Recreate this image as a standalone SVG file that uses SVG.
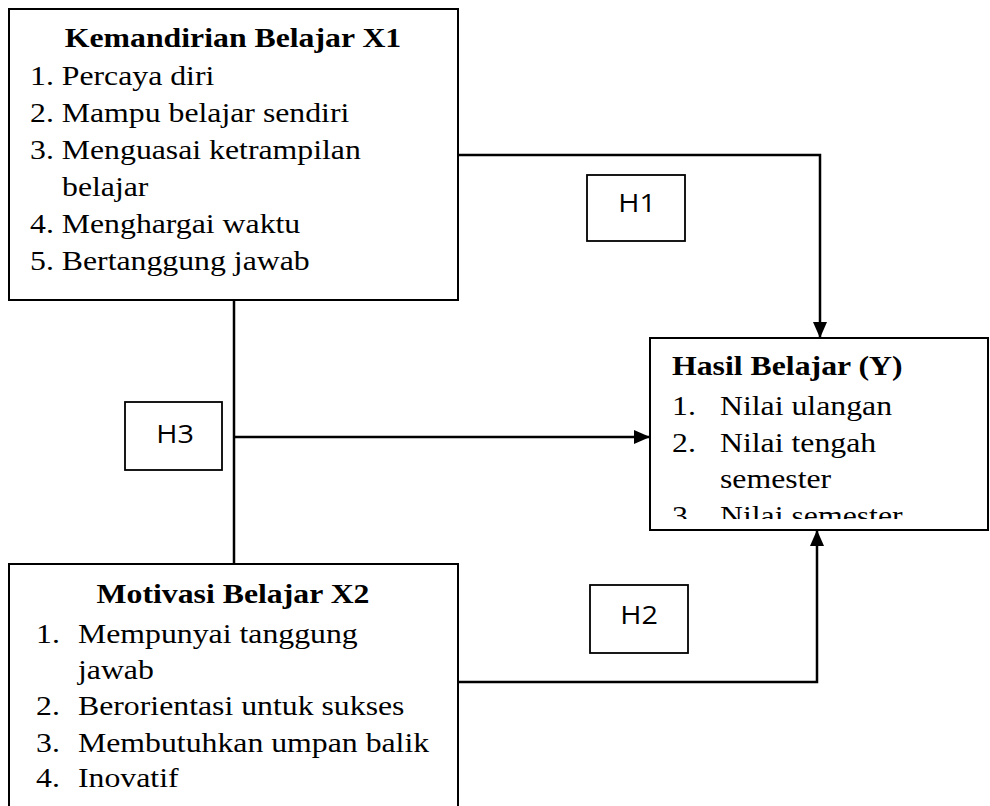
<svg xmlns="http://www.w3.org/2000/svg" width="990" height="806" viewBox="0 0 990 806">
<defs>
<style>
.box{fill:#fff;stroke:#000;stroke-width:2}
.hbox{fill:#fff;stroke:#000;stroke-width:1.8}
.t{font-family:"Liberation Serif","Times New Roman",serif;font-size:28px;fill:#000}
.b{font-weight:bold}
.h{font-family:"Open Sans","Liberation Sans",sans-serif;font-size:25px;fill:#000;text-anchor:middle}
.c{fill:none;stroke:#000;stroke-width:2.5}
</style>
<marker id="arr" viewBox="0 0 16 14" refX="16" refY="7" markerWidth="16" markerHeight="14" markerUnits="userSpaceOnUse" orient="auto">
<path d="M0,0 L16,7 L0,14 z" fill="#000"/>
</marker>
<clipPath id="yclip"><rect x="650" y="338" width="338" height="181"/></clipPath>
</defs>
<g id="connectors">
<line class="c" x1="234" y1="300" x2="234" y2="564"/>
<polyline class="c" points="458,155 820,155 820,338" marker-end="url(#arr)"/>
<line class="c" x1="234" y1="437" x2="650" y2="437" marker-end="url(#arr)"/>
<polyline class="c" points="458,682 817,682 817,530" marker-end="url(#arr)"/>
</g>
<g id="x1">
<rect class="box" x="9" y="9" width="449" height="291"/>
<text class="t b" text-anchor="middle" transform="translate(233,47) scale(1.135,1)">Kemandirian Belajar X1</text>
<text class="t" transform="translate(30,85) scale(1.135,1)">1. Percaya diri</text>
<text class="t" transform="translate(30,122) scale(1.135,1)">2. Mampu belajar sendiri</text>
<text class="t" transform="translate(30,159) scale(1.135,1)">3. Menguasai ketrampilan</text>
<text class="t" transform="translate(62,196) scale(1.135,1)">belajar</text>
<text class="t" transform="translate(30,233) scale(1.135,1)">4. Menghargai waktu</text>
<text class="t" transform="translate(30,270) scale(1.135,1)">5. Bertanggung jawab</text>
</g>
<g id="x2">
<rect class="box" x="9" y="564" width="449" height="250"/>
<text class="t b" text-anchor="middle" transform="translate(233,603) scale(1.135,1)">Motivasi Belajar X2</text>
<text class="t" transform="translate(36,643) scale(1.135,1)">1.</text><text class="t" transform="translate(78,643) scale(1.135,1)">Mempunyai tanggung</text>
<text class="t" transform="translate(78,679) scale(1.135,1)">jawab</text>
<text class="t" transform="translate(36,715) scale(1.135,1)">2.</text><text class="t" transform="translate(78,715) scale(1.135,1)">Berorientasi untuk sukses</text>
<text class="t" transform="translate(36,752) scale(1.135,1)">3.</text><text class="t" transform="translate(78,752) scale(1.135,1)">Membutuhkan umpan balik</text>
<text class="t" transform="translate(36,787) scale(1.135,1)">4.</text><text class="t" transform="translate(78,787) scale(1.135,1)">Inovatif</text>
</g>
<g id="y">
<rect class="box" x="650" y="338" width="338" height="192"/>
<g clip-path="url(#yclip)">
<text class="t b" transform="translate(672,375) scale(1.135,1)">Hasil Belajar (Y)</text>
<text class="t" transform="translate(672,415) scale(1.135,1)">1.</text><text class="t" transform="translate(720,415) scale(1.135,1)">Nilai ulangan</text>
<text class="t" transform="translate(672,452) scale(1.135,1)">2.</text><text class="t" transform="translate(720,452) scale(1.135,1)">Nilai tengah</text>
<text class="t" transform="translate(720,488) scale(1.135,1)">semester</text>
<text class="t" transform="translate(672,525) scale(1.135,1)">3.</text><text class="t" transform="translate(720,525) scale(1.135,1)">Nilai semester</text>
</g>
</g>
<g id="h1">
<rect class="hbox" x="587" y="175" width="98" height="66"/>
<text class="h" transform="translate(637,212) scale(1.15,1)">H1</text>
</g>
<g id="h2">
<rect class="hbox" x="590" y="585" width="98" height="68"/>
<text class="h" transform="translate(639,624) scale(1.15,1)">H2</text>
</g>
<g id="h3">
<rect class="hbox" x="125" y="402" width="97" height="68"/>
<text class="h" transform="translate(175,443) scale(1.15,1)">H3</text>
</g>
</svg>
